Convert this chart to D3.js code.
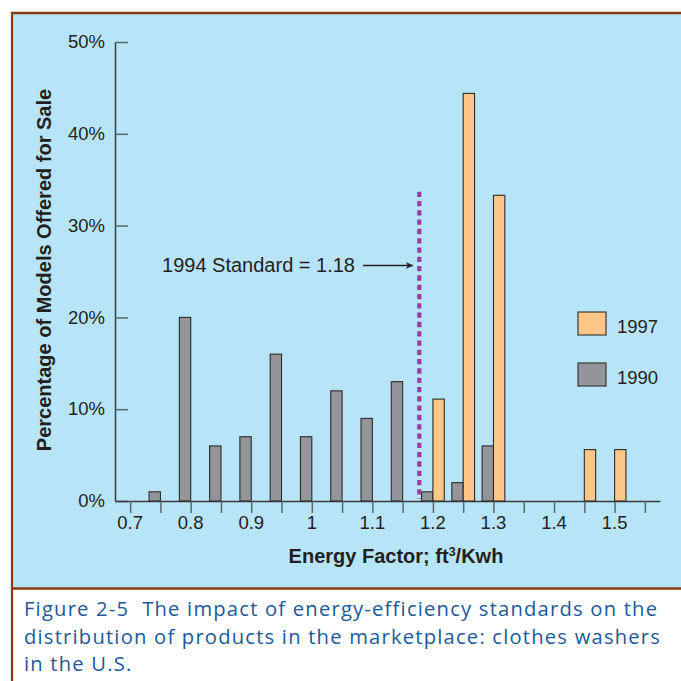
<!DOCTYPE html>
<html lang="en">
<head>
  <meta charset="UTF-8">
  <title>Energy Factor of Clothes Washers</title>
  <style>
    body {
      margin: 0;
      padding: 0;
      background-color: #ffffff;
    }
    svg text {
      fill: #231f20;
    }
  </style>
  <script src="https://d3js.org/d3.v7.min.js"></script>
</head>
<body>
  <div id="chart"></div>

  <script>
    // Energy factor bins (ft3/Kwh) and share of models offered for sale (%)
    const bins1990 = [0.75, 0.8, 0.85, 0.9, 0.95, 1.0, 1.05, 1.1, 1.15, 1.2, 1.25, 1.3];
    const values1990 = [1, 20, 6, 7, 16, 7, 12, 9, 13, 1, 2, 6];

    const bins1997 = [1.2, 1.25, 1.3, 1.45, 1.5];
    const values1997 = [11.1, 44.4, 33.3, 5.6, 5.6];

    const xTicks = [0.7, 0.75, 0.8, 0.85, 0.9, 0.95, 1.0, 1.05, 1.1, 1.15, 1.2, 1.25, 1.3, 1.35, 1.4, 1.45, 1.5, 1.55];
    const xTickLabels = ["0.7", "0.8", "0.9", "1", "1.1", "1.2", "1.3", "1.4", "1.5"];
    const yTicks = [0, 10, 20, 30, 40, 50];

    const standardValue = 1.18;
    const standardTop = 33.7;

    const legendItems = [
      { label: "1997", color: "#fec687" },
      { label: "1990", color: "#939598" }
    ];

    const width = 681;
    const height = 681;
    const font = "Liberation Sans, Arial, sans-serif";

    const svg = d3.select("#chart")
      .append("svg")
      .attr("width", width)
      .attr("height", height);

    // panel and frame
    svg.append("rect")
      .attr("x", 11)
      .attr("y", 12)
      .attr("width", width - 11)
      .attr("height", 576)
      .attr("fill", "#b8e4f8");

    const brown = "#8a3b12";
    svg.append("line").attr("x1", 11).attr("x2", width).attr("y1", 13).attr("y2", 13)
      .attr("stroke", brown).attr("stroke-width", 2.5);
    svg.append("line").attr("x1", 11).attr("x2", width).attr("y1", 588.5).attr("y2", 588.5)
      .attr("stroke", brown).attr("stroke-width", 2.5);
    svg.append("line").attr("x1", 12).attr("x2", 12).attr("y1", 12).attr("y2", height)
      .attr("stroke", brown).attr("stroke-width", 2.2);

    const x = d3.scaleLinear()
      .domain([0.675, 1.575])
      .range([115, 660]);

    const y = d3.scaleLinear()
      .domain([0, 50])
      .range([501, 42]);

    const barWidth = (x(0.05) - x(0)) * 0.375;

    // y axis: ticks point inward
    const yAxis = svg.append("g")
      .attr("transform", `translate(${x(0.675)},0)`)
      .call(d3.axisRight(y).tickValues(yTicks).tickSize(13).tickSizeOuter(0).tickFormat(""));
    yAxis.select(".domain").attr("stroke", "#3a3a3a").attr("stroke-width", 1.5);
    yAxis.selectAll(".tick line").attr("stroke", "#5a6670").attr("stroke-width", 1.5);

    svg.append("g")
      .selectAll("text")
      .data(yTicks)
      .enter()
      .append("text")
      .attr("x", 105)
      .attr("y", d => y(d))
      .attr("dy", "0.33em")
      .attr("text-anchor", "end")
      .style("font-family", font)
      .style("font-size", "18.5px")
      .text(d => d + "%");

    // x axis: ticks below
    const xAxis = svg.append("g")
      .attr("transform", `translate(0,${y(0)})`)
      .call(d3.axisBottom(x).tickValues(xTicks).tickSize(12).tickSizeOuter(0).tickFormat(""));
    xAxis.select(".domain").attr("stroke", "#3a3a3a").attr("stroke-width", 1.5);
    xAxis.selectAll(".tick line").attr("stroke", "#5a6670").attr("stroke-width", 1.5);

    svg.append("g")
      .selectAll("text")
      .data(xTickLabels)
      .enter()
      .append("text")
      .attr("x", d => x(+d))
      .attr("y", 529)
      .attr("text-anchor", "middle")
      .style("font-family", font)
      .style("font-size", "18.5px")
      .text(d => d);

    // bars: 1990 to the left of each tick, 1997 to the right
    svg.append("g")
      .selectAll("rect")
      .data(bins1990)
      .enter()
      .append("rect")
      .attr("x", d => x(d) - barWidth)
      .attr("y", (d, i) => y(values1990[i]))
      .attr("width", barWidth)
      .attr("height", (d, i) => y(0) - y(values1990[i]))
      .attr("fill", legendItems[1].color)
      .attr("stroke", "#2b2b2b")
      .attr("stroke-width", 1.1);

    svg.append("g")
      .selectAll("rect")
      .data(bins1997)
      .enter()
      .append("rect")
      .attr("x", d => x(d))
      .attr("y", (d, i) => y(values1997[i]))
      .attr("width", barWidth)
      .attr("height", (d, i) => y(0) - y(values1997[i]))
      .attr("fill", legendItems[0].color)
      .attr("stroke", "#2b2b2b")
      .attr("stroke-width", 1.1);

    // 1994 standard marker
    svg.append("line")
      .attr("x1", x(standardValue) - 1.5)
      .attr("x2", x(standardValue) - 1.5)
      .attr("y1", y(standardTop))
      .attr("y2", y(0) - 2)
      .attr("stroke", "#9b3d9e")
      .attr("stroke-width", 4.2)
      .attr("stroke-dasharray", "5.3,4");

    svg.append("defs").append("marker")
      .attr("id", "arrow")
      .attr("viewBox", "0 0 10 10")
      .attr("refX", 10)
      .attr("refY", 5)
      .attr("markerWidth", 10)
      .attr("markerHeight", 7)
      .attr("markerUnits", "userSpaceOnUse")
      .attr("orient", "auto")
      .append("path")
      .attr("d", "M0,0 L10,5 L0,10 L2.5,5 Z")
      .attr("fill", "#231f20");

    svg.append("text")
      .attr("x", 355)
      .attr("y", 272)
      .attr("text-anchor", "end")
      .style("font-family", font)
      .style("font-size", "20px")
      .text("1994 Standard = " + standardValue);

    svg.append("line")
      .attr("x1", 363)
      .attr("x2", 413)
      .attr("y1", 265.5)
      .attr("y2", 265.5)
      .attr("stroke", "#231f20")
      .attr("stroke-width", 1.4)
      .attr("marker-end", "url(#arrow)");

    // legend
    const legend = svg.selectAll(".legend")
      .data(legendItems)
      .enter().append("g")
      .attr("class", "legend")
      .attr("transform", (d, i) => `translate(578,${312 + i * 51})`);

    legend.append("rect")
      .attr("width", 28)
      .attr("height", 23)
      .attr("fill", d => d.color)
      .attr("stroke", "#3a3a3a")
      .attr("stroke-width", 1.2);

    legend.append("text")
      .attr("x", 39)
      .attr("y", 21)
      .style("font-family", font)
      .style("font-size", "18.5px")
      .text(d => d.label);

    // axis titles
    svg.append("text")
      .attr("transform", "translate(51,270) rotate(-90)")
      .attr("text-anchor", "middle")
      .style("font-family", font)
      .style("font-size", "20px")
      .style("font-weight", "bold")
      .text("Percentage of Models Offered for Sale");

    const xTitle = svg.append("text")
      .attr("x", 396)
      .attr("y", 563)
      .attr("text-anchor", "middle")
      .style("font-family", font)
      .style("font-size", "20px")
      .style("font-weight", "bold");
    xTitle.append("tspan").text("Energy Factor; ft");
    xTitle.append("tspan").attr("dy", -7).style("font-size", "12.5px").text("3");
    xTitle.append("tspan").attr("dy", 7).text("/Kwh");

    // caption
    const captionLines = [
      "Figure 2-5\u00a0\u00a0The impact of energy-efficiency standards on the",
      "distribution of products in the marketplace: clothes washers",
      "in the U.S."
    ];

    const caption = svg.append("g")
      .selectAll("text")
      .data(captionLines)
      .enter()
      .append("text")
      .attr("x", 24)
      .attr("y", (d, i) => 616 + i * 27.5)
      .style("font-family", "Open Sans, Noto Sans, sans-serif")
      .style("font-size", "20.2px")
      .style("fill", "#1b5a9a")
      .text(d => d);

    // small letter-spacing tweak so the first line matches the printed width
    const first = captionLines[0];
    const firstLen = caption.node().getComputedTextLength();
    const spacing = (633 - firstLen) / (first.length - 1);
    caption.style("letter-spacing", spacing + "px");
  </script>
</body>
</html>
